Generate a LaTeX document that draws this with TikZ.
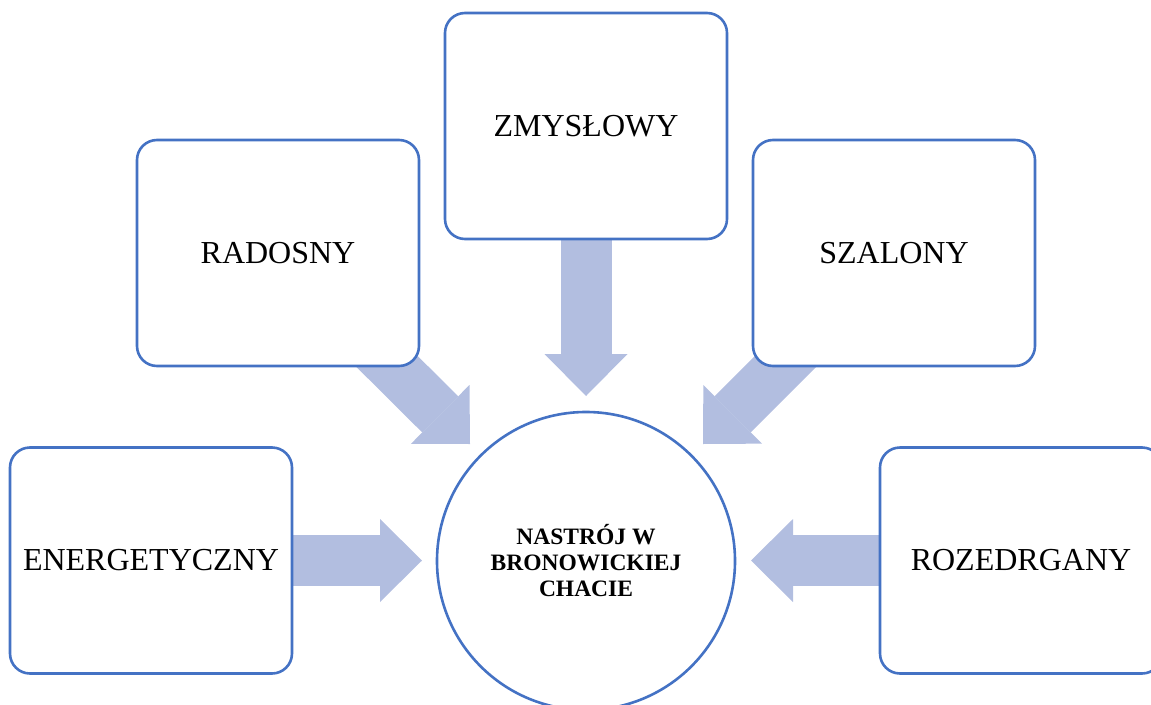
\documentclass[tikz,border=0pt]{standalone}
\usepackage{fontspec}
\setmainfont{Liberation Serif}
\usetikzlibrary{arrows.meta,backgrounds}
\definecolor{boxblue}{HTML}{4472C4}
\definecolor{arrowfill}{HTML}{B2BEE0}
\begin{document}
\begin{tikzpicture}[x=1pt,y=-1pt,
  mybox/.style={draw=boxblue, line width=2.6pt, fill=white, rounded corners=20pt,
    minimum width=282pt, minimum height=226pt, inner sep=0pt,
    font=\fontsize{32}{38}\selectfont},
  hub/.style={circle, draw=boxblue, line width=2.6pt, fill=white, minimum size=298pt,
    inner sep=0pt, align=center, font=\fontsize{23.5}{26}\selectfont\bfseries},
  blockarrow/.style={draw=arrowfill, line width=51pt, line cap=butt,
    -{Triangle[width=83pt,length=42pt,line width=0pt,fill=arrowfill]}}
]
\useasboundingbox (0,0) rectangle (1151,704);
\clip (0,0) rectangle (1151,704);
\node[mybox] (ener) at (151,560.5) {ENERGETYCZNY};
\node[mybox] (rad) at (278,253) {RADOSNY};
\node[mybox] (zmy) at (586,126) {ZMYSŁOWY};
\node[mybox] (sza) at (894,253) {SZALONY};
\node[mybox] (roz) at (1021,560.5) {ROZEDRGANY};
\node[hub] (hub) at (586,561) {NASTRÓJ W\\BRONOWICKIEJ\\CHACIE};
\coordinate (tE) at (422,560.5);
\coordinate (tR) at (470,444);
\coordinate (tZ) at (586,396);
\coordinate (tS) at (703,444);
\coordinate (tRo) at (751,560.5);
\begin{scope}[on background layer]
  \draw[blockarrow] (ener.center) -- (tE);
  \draw[blockarrow] (rad.center) -- (tR);
  \draw[blockarrow] (zmy.center) -- (tZ);
  \draw[blockarrow] (sza.center) -- (tS);
  \draw[blockarrow] (roz.center) -- (tRo);
\end{scope}
\end{tikzpicture}
\end{document}
